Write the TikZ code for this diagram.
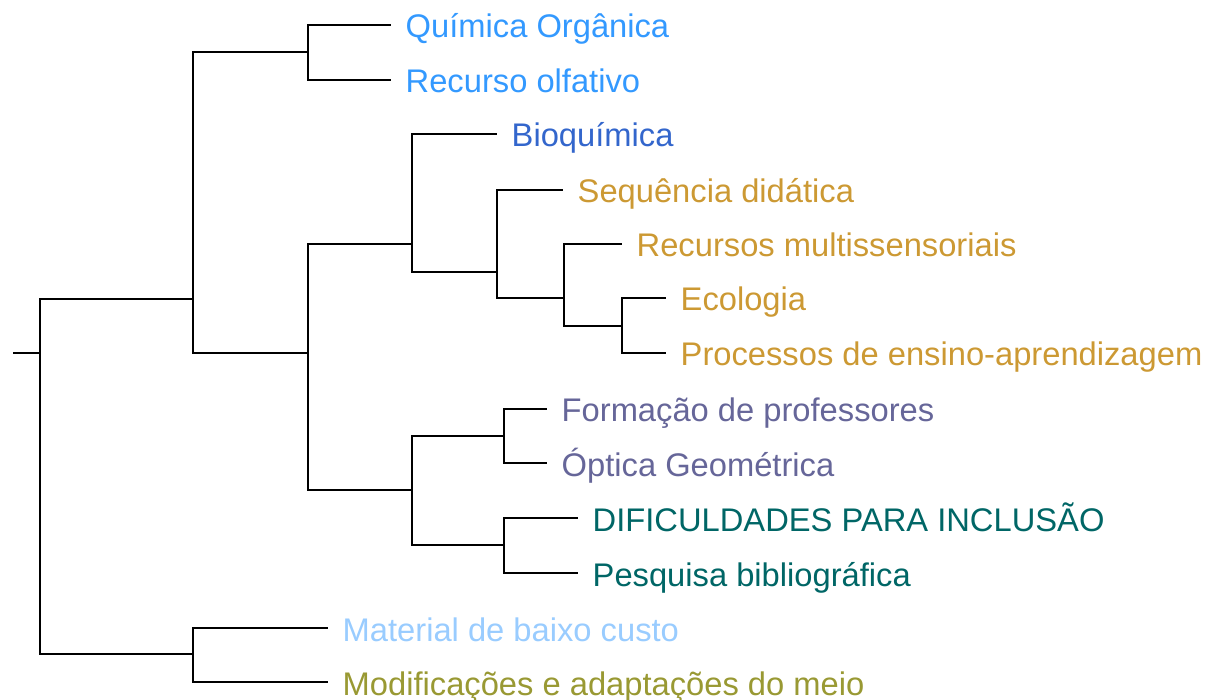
\documentclass[tikz,border=0pt]{standalone}
\usepackage{fontspec}
\setmainfont{Liberation Sans}
\definecolor{cOrg}{RGB}{51,153,255}
\definecolor{cBio}{RGB}{51,102,204}
\definecolor{cGold}{RGB}{204,153,51}
\definecolor{cPurp}{RGB}{102,102,153}
\definecolor{cTeal}{RGB}{0,102,102}
\definecolor{cLight}{RGB}{153,204,255}
\definecolor{cOlive}{RGB}{153,153,51}
\tikzset{
  branch/.style={line width=2.9pt, black, line join=miter},
  leaflab/.style={anchor=base west, inner sep=0pt, xshift=14.5pt, yshift=-13pt,
    font=\fontsize{32.7}{38}\selectfont},
}
\begin{document}
\begin{tikzpicture}[x=1pt, y=-1pt]
\useasboundingbox (0,0) rectangle (1205,700);
% internal nodes (attachment points)
\coordinate (s)  at (13,353);
\coordinate (r)  at (40,353);
\coordinate (n1) at (193,299);
\coordinate (n2) at (193,654);
\coordinate (a)  at (308,52);
\coordinate (b)  at (308,353);
\coordinate (c)  at (412,244);
\coordinate (d)  at (412,490);
\coordinate (e)  at (497,272);
\coordinate (f)  at (564,298);
\coordinate (g)  at (622,326);
\coordinate (h)  at (504,436);
\coordinate (i)  at (504,545);
% leaf ends
\coordinate (L1)  at (391,25);
\coordinate (L2)  at (391,80);
\coordinate (L3)  at (497,134);
\coordinate (L4)  at (563,190);
\coordinate (L5)  at (622,244);
\coordinate (L6)  at (666,298);
\coordinate (L7)  at (666,353);
\coordinate (L8)  at (547,409);
\coordinate (L9)  at (547,463);
\coordinate (L10) at (578,518);
\coordinate (L11) at (578,573);
\coordinate (L12) at (328,628);
\coordinate (L13) at (328,682);
% branches
\draw[branch] (s) -- (r);
\draw[branch] (r) |- (n1);
\draw[branch] (r) |- (n2);
\draw[branch] (n1) |- (a);
\draw[branch] (n1) |- (b);
\draw[branch] (a) |- (L1);
\draw[branch] (a) |- (L2);
\draw[branch] (b) |- (c);
\draw[branch] (b) |- (d);
\draw[branch] (c) |- (L3);
\draw[branch] (c) |- (e);
\draw[branch] (e) |- (L4);
\draw[branch] (e) |- (f);
\draw[branch] (f) |- (L5);
\draw[branch] (f) |- (g);
\draw[branch] (g) |- (L6);
\draw[branch] (g) |- (L7);
\draw[branch] (d) |- (h);
\draw[branch] (d) |- (i);
\draw[branch] (h) |- (L8);
\draw[branch] (h) |- (L9);
\draw[branch] (i) |- (L10);
\draw[branch] (i) |- (L11);
\draw[branch] (n2) |- (L12);
\draw[branch] (n2) |- (L13);
% labels
\node[leaflab, text=cOrg]   (t1)  at (L1)  {Química Orgânica};
\node[leaflab, text=cOrg]   (t2)  at (L2)  {Recurso olfativo};
\node[leaflab, text=cBio]   (t3)  at (L3)  {Bioquímica};
\node[leaflab, text=cGold]  (t4)  at (L4)  {Sequência didática};
\node[leaflab, text=cGold]  (t5)  at (L5)  {Recursos multissensoriais};
\node[leaflab, text=cGold]  (t6)  at (L6)  {Ecologia};
\node[leaflab, text=cGold]  (t7)  at (L7)  {Processos de ensino-aprendizagem};
\node[leaflab, text=cPurp]  (t8)  at (L8)  {Formação de professores};
\node[leaflab, text=cPurp]  (t9)  at (L9)  {Óptica Geométrica};
\node[leaflab, text=cTeal]  (t10) at (L10) {DIFICULDADES PARA INCLUSÃO};
\node[leaflab, text=cTeal]  (t11) at (L11) {Pesquisa bibliográfica};
\node[leaflab, text=cLight] (t12) at (L12) {Material de baixo custo};
\node[leaflab, text=cOlive] (t13) at (L13) {Modificações e adaptações do meio};
\end{tikzpicture}
\end{document}
